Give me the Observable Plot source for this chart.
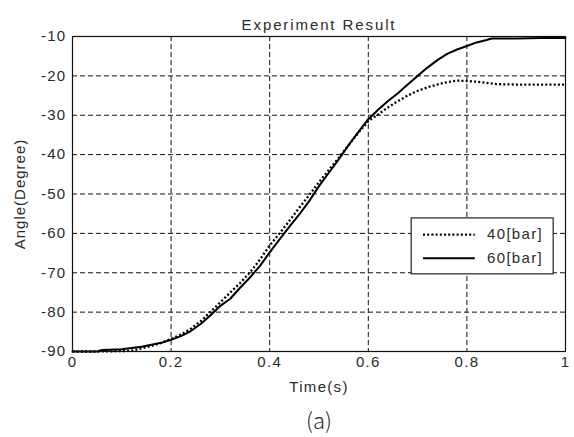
<!DOCTYPE html>
<html>
<head>
<meta charset="utf-8">
<script src="https://cdn.jsdelivr.net/npm/d3@7"></script>
<script src="https://cdn.jsdelivr.net/npm/@observablehq/plot@0.6"></script>
<style>
  html, body { margin: 0; padding: 0; background: #fff; }
</style>
</head>
<body>
<div id="chart"></div>
<script>
// ---- data ----
const time40 = [0, 0.05, 0.10, 0.12, 0.14, 0.16, 0.18, 0.20, 0.22, 0.24, 0.26, 0.28, 0.30, 0.32, 0.34, 0.36, 0.38, 0.40, 0.42, 0.44, 0.46, 0.48, 0.50, 0.52, 0.54, 0.56, 0.58, 0.60, 0.62, 0.64, 0.66, 0.68, 0.70, 0.72, 0.74, 0.76, 0.78, 0.80, 0.82, 0.84, 0.86, 0.90, 0.95, 1.00];
const angle40 = [-90, -90, -89.9, -89.8, -89.2, -88.6, -87.8, -86.8, -85.7, -84.2, -82.3, -79.9, -77.5, -75.0, -72.6, -69.9, -66.7, -63.0, -60.0, -56.8, -53.5, -50.3, -47.0, -43.9, -40.8, -37.6, -34.4, -31.5, -29.8, -28.0, -26.4, -25.0, -23.8, -22.9, -22.2, -21.6, -21.2, -21.3, -21.5, -21.8, -22.1, -22.2, -22.2, -22.2];

const time60 = [0, 0.05, 0.06, 0.10, 0.14, 0.18, 0.20, 0.22, 0.24, 0.26, 0.28, 0.30, 0.32, 0.34, 0.36, 0.38, 0.40, 0.42, 0.44, 0.46, 0.48, 0.50, 0.52, 0.54, 0.56, 0.58, 0.60, 0.62, 0.64, 0.66, 0.68, 0.70, 0.72, 0.74, 0.76, 0.78, 0.80, 0.82, 0.84, 0.85, 0.90, 0.95, 1.00];
const angle60 = [-90, -90, -89.6, -89.4, -88.8, -87.8, -87.0, -86.1, -84.8, -83.0, -80.8, -78.4, -76.6, -73.8, -71.2, -68.3, -64.8, -61.5, -58.3, -55.2, -51.8, -48.0, -44.6, -41.2, -37.6, -34.2, -31.0, -28.6, -26.4, -24.4, -22.2, -20.0, -17.9, -16.0, -14.4, -13.3, -12.4, -11.5, -10.9, -10.5, -10.5, -10.4, -10.4];

const seriesNames = ["40[bar]", "60[bar]"];
const xTicks = [0, 0.2, 0.4, 0.6, 0.8, 1];
const yTicks = [-90, -80, -70, -60, -50, -40, -30, -20, -10];

const titleText = "Experiment Result";
const xLabel = "Time(s)";
const yLabel = "Angle(Degree)";
const captionText = "(a)";

// build tables
const d40 = time40.map((t, i) => ({t, v: angle40[i]}));
const d60 = time60.map((t, i) => ({t, v: angle60[i]}));

// legend placement in data space (layout)
const legendBox = {x1: 0.688, x2: 0.976, y1: -56.2, y2: -70.4};
const legendRows = [
  {name: seriesNames[0], y: -60.3, dash: true},
  {name: seriesNames[1], y: -66.3, dash: false}
];

const font = "'Liberation Sans', Arial, Helvetica, sans-serif";
const dots = "2,2.2";

const plot = Plot.plot({
  width: 574,
  height: 437,
  marginTop: 36,
  marginBottom: 86,
  marginLeft: 72,
  marginRight: 9,
  style: {fontSize: "15px", fontFamily: font, background: "#fff", color: "#2a2a2a", overflow: "visible", letterSpacing: "1.3px"},
  x: {domain: [0, 1], ticks: xTicks, tickSize: 0, tickPadding: 5, label: null, tickFormat: d => String(d)},
  y: {domain: [-90, -10], ticks: yTicks, tickSize: 0, tickPadding: 6, label: null, tickFormat: d => String(d)},
  marks: [
    // grid
    Plot.ruleX(xTicks.slice(1, -1), {stroke: "#111", strokeWidth: 1, strokeDasharray: "5,3"}),
    Plot.ruleY(yTicks.slice(1), {stroke: "#111", strokeWidth: 1, strokeDasharray: "5,3"}),
    // curves
    Plot.line(d40, {x: "t", y: "v", stroke: "#000", strokeWidth: 2.3, strokeDasharray: dots, strokeLinecap: "butt", curve: "linear"}),
    Plot.line(d60, {x: "t", y: "v", stroke: "#000", strokeWidth: 2, curve: "linear"}),
    Plot.frame({stroke: "#111", strokeWidth: 1.2}),
    // legend
    Plot.rect([legendBox], {x1: "x1", x2: "x2", y1: "y1", y2: "y2", fill: "#fff", stroke: "#222", strokeWidth: 1.2}),
    Plot.ruleY(legendRows.filter(r => r.dash), {y: "y", x1: 0.712, x2: 0.817, stroke: "#000", strokeWidth: 2.3, strokeDasharray: dots, strokeLinecap: "butt"}),
    Plot.ruleY(legendRows.filter(r => !r.dash), {y: "y", x1: 0.712, x2: 0.817, stroke: "#000", strokeWidth: 2}),
    Plot.text(legendRows, {x: 0.841, y: "y", text: "name", textAnchor: "start", fontSize: 15, fill: "#2a2a2a"}),
    // titles
    Plot.text([titleText], {frameAnchor: "top", textAnchor: "middle", dy: -17, fontSize: 15, fill: "#2a2a2a"}),
    Plot.text([xLabel], {frameAnchor: "bottom", textAnchor: "middle", dy: 40, fontSize: 15, fill: "#2a2a2a"}),
    Plot.text([yLabel], {frameAnchor: "left", textAnchor: "middle", dx: -52, dy: 0, rotate: -90, fontSize: 15, fill: "#2a2a2a"}),
    Plot.text([captionText], {frameAnchor: "bottom", textAnchor: "middle", dy: 77, fontSize: 22, fill: "#2a2a2a", fontFamily: "'Noto Sans CJK KR', 'Noto Sans', sans-serif", fontWeight: 300})
  ]
});
d3.select(plot).selectAll("text")
  .filter(function() { return this.textContent === captionText; })
  .style("letter-spacing", "0px");
d3.select(plot).selectAll("text")
  .filter(function() { return this.textContent === yLabel; })
  .style("letter-spacing", "1px");
d3.select(plot).selectAll("text")
  .filter(function() { return this.textContent === titleText; })
  .style("letter-spacing", "1.9px");
document.getElementById("chart").appendChild(plot);
</script>
</body>
</html>
